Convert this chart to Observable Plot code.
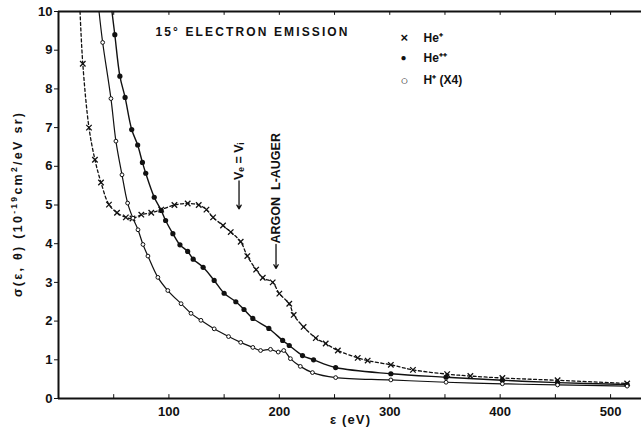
<!DOCTYPE html>
<html><head><meta charset="utf-8">
<script src="https://cdn.jsdelivr.net/npm/d3@7"></script>
<script src="https://cdn.jsdelivr.net/npm/@observablehq/plot@0.6"></script>
<style>
body{margin:0;background:#fff;}
#chart svg{font-family:"Liberation Sans",Arial,sans-serif;font-weight:bold;}
</style>
</head><body><div id="chart"></div>
<script>
// He+ (x, dashed)
const hePlusE = [19.5,22,27.6,33,38.5,45.7,53,61,67,75,84,93,105,117,127,134,140,149,156,165,171,179,185,194,200,209,213,222,233,242,253,271,280,301,321,352,373,402,452,515];
const hePlusS = [10,8.65,7.0,6.17,5.58,5.01,4.8,4.68,4.65,4.75,4.8,4.88,5.0,5.04,5.0,4.88,4.68,4.47,4.3,4.05,3.68,3.33,3.12,3.0,2.71,2.45,2.16,1.85,1.56,1.42,1.24,1.05,0.98,0.87,0.74,0.63,0.58,0.53,0.47,0.39];
// He++ (filled dots, solid)
const hePPE = [48.4,51,55.6,60.3,66.3,71.7,76,79,86.7,93,97,103.6,110,117,122,131,141,150,160.6,168,176,190.5,203,209,221,231,251,301,351,402,452,515];
const hePPS = [10,9.4,8.33,7.78,6.95,6.55,6.1,5.82,5.2,4.86,4.6,4.26,3.97,3.8,3.6,3.39,3.05,2.72,2.5,2.3,2.07,1.81,1.5,1.37,1.11,1.0,0.8,0.64,0.55,0.47,0.41,0.36];
// H+ (x4) (open circles, solid)
const hPE = [36.7,40,47.5,52,57.5,62.6,67.4,72,76.5,81,90,99,111,120,129,141,154,165,176,183,192,199,204,210,219,230,251,301,351,402,452,515];
const hPS = [10,9.2,7.75,6.65,5.78,5.05,4.66,4.36,3.98,3.68,3.13,2.79,2.45,2.2,2.02,1.8,1.6,1.45,1.32,1.24,1.27,1.2,1.24,1.03,0.83,0.67,0.54,0.48,0.42,0.38,0.35,0.32];

const xTicks = [100,200,300,400,500];
const yTicks = [0,1,2,3,4,5,6,7,8,9,10];
const minorX = [50,100,150,200,250,300,350,400,450,500];
const legendSymbols = ["×","●","○"];
const legendLabels = ["He⁺","He⁺⁺","H⁺ (X4)"];
const titleText = "15° ELECTRON EMISSION";
const yTitle = "σ(ε, θ) (10-19cm2/eV sr)";
const yTitleParts = [["σ(ε, θ) (10",0],["-19",1],["cm",0],["2",1],["/eV sr)",0]];
const xTitle = "ε (eV)";
const annotations = [
  {label:"Vₑ = Vᵢ", e:163.5, top:5.62, tip:4.9},
  {label:"ARGON  L-AUGER", e:197, top:3.98, tip:3.36}
];

const zip = (E,S) => E.map((e,i)=>({e, s:S[i]}));
const heP = zip(hePlusE, hePlusS), hePP = zip(hePPE, hePPS), hP = zip(hPE, hPS);
const inside = d => d.s < 10;

const ink = "#111";
const rowDy = [26.5, 46.5, 69];
const legendMarks = legendSymbols.flatMap((sym, i) => [
  Plot.text([sym], {frameAnchor:"top-left", lineAnchor:"middle", dx: 342, dy: rowDy[i], fontSize: i === 1 ? 10 : 13, fill: ink}),
  Plot.text([legendLabels[i]], {frameAnchor:"top-left", lineAnchor:"middle", dx: 365, dy: rowDy[i], textAnchor:"start", fontSize: 12, fontWeight:"bold", fill: ink})
]);

const chart = Plot.plot({
  width: 641, height: 432,
  marginLeft: 58, marginRight: 0, marginTop: 11, marginBottom: 34,
  x: {domain: [0, 528]},
  y: {domain: [0, 10]},
  style: {fontSize: "12px", color: ink, background: "#fff"},
  marks: [
    Plot.axisY({ticks: yTicks, tickSize: 4, tickPadding: 2, label: null, fontSize: 13, fontWeight: "bold"}),
    Plot.axisX({ticks: xTicks, tickSize: 0, tickPadding: 8, label: null, fontSize: 13, fontWeight: "bold"}),
    Plot.ruleX([0], {stroke: ink, strokeWidth: 2}),
    Plot.ruleY([0], {stroke: ink, strokeWidth: 2}),
    Plot.ruleY([10], {stroke: ink, strokeWidth: 2}),
    Plot.ruleX(minorX, {x: d => d, y1: 0, y2: 0.1, stroke: ink}),
    Plot.ruleX(minorX, {x: d => d, y1: 9.9, y2: 10, stroke: ink}),
    // curves
    Plot.line(heP, {x:"e", y:"s", curve:"catmull-rom", stroke: ink, strokeWidth: 1.3, strokeDasharray: "3,2.5"}),
    Plot.line(hePP, {x:"e", y:"s", curve:"catmull-rom", stroke: ink, strokeWidth: 1.4}),
    Plot.line(hP, {x:"e", y:"s", curve:"catmull-rom", stroke: ink, strokeWidth: 1.2}),
    Plot.dot(heP.filter(inside), {x:"e", y:"s", symbol:"times", r: 2.6, stroke: ink, strokeWidth: 1.3}),
    Plot.dot(hePP.filter(inside), {x:"e", y:"s", r: 2.6, fill: ink, stroke: "none"}),
    Plot.dot(hP.filter(inside), {x:"e", y:"s", r: 1.9, fill: "#fff", stroke: ink, strokeWidth: 1}),
    // annotations
    Plot.arrow(annotations, {x1:"e", x2:"e", y1:"top", y2:"tip", stroke: ink, strokeWidth: 1.3, headLength: 5}),
    Plot.text(annotations, {x:"e", y:"top", text:"label", rotate: -90, textAnchor:"start", dy: -1, fontSize: 12.5, fontWeight:"bold", fill: ink}),
    // title & legend
    Plot.text([titleText], {frameAnchor:"top-left", lineAnchor:"middle", dx: 97, dy: 20.5, textAnchor:"start", fontSize: 12, fontWeight:"bold", fill: ink}),
    ...legendMarks,
    // axis titles
    Plot.text([yTitle], {frameAnchor:"left", textAnchor:"middle", dx: -41, rotate: -90, fontSize: 12.5, fontWeight:"bold", fill: ink}),
    Plot.text([xTitle], {frameAnchor:"bottom", dy: 25, fontSize: 13, fontWeight:"bold", fill: ink})
  ]
});
document.getElementById("chart").append(chart);
// superscripts in the y title
d3.select(chart).selectAll("text").filter(function(){ return this.textContent === yTitle; }).each(function() {
  const t = d3.select(this);
  t.text(null);
  let prevSup = false;
  for (const [s, sup] of yTitleParts) {
    const ts = t.append("tspan").text(s);
    if (sup) ts.attr("font-size", "8.5px").attr("dy", "-0.5em");
    else if (prevSup) ts.attr("dy", "0.35em");
    prevSup = !!sup;
  }
  t.attr("textLength", 184).attr("lengthAdjust", "spacing");
});
// stretch the letter-spaced labels of the original to their measured lengths
const fitLength = {[titleText]: 192, [xTitle]: 40};
d3.select(chart).selectAll("text").each(function() {
  const L = fitLength[this.textContent];
  if (L) d3.select(this).attr("textLength", L).attr("lengthAdjust", "spacing");
});
</script>
</body></html>
